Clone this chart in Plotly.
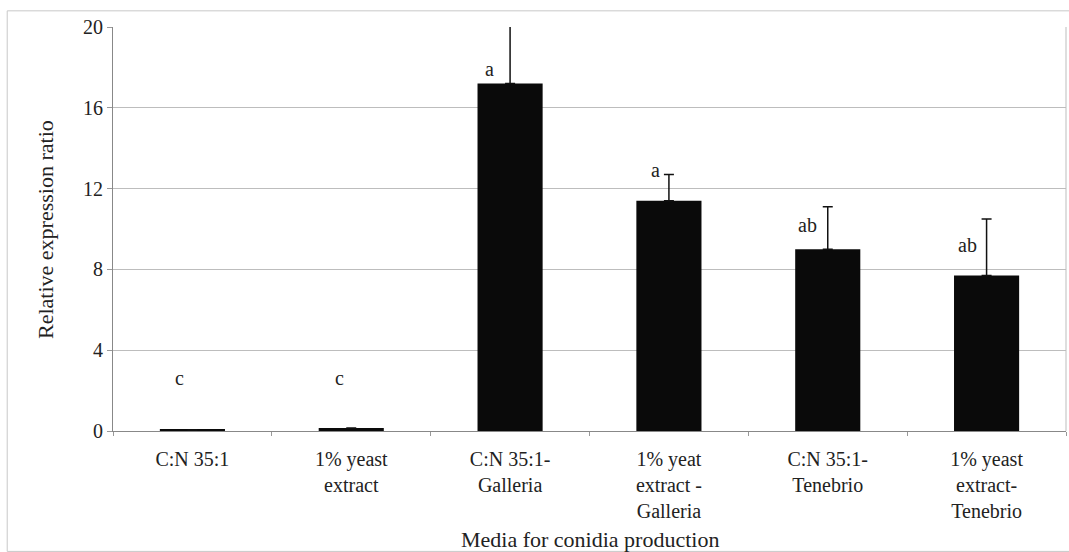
import plotly.graph_objects as go

categories = ["C:N 35:1", "1% yeast<br>extract", "C:N 35:1-<br>Galleria",
              "1% yeat<br>extract -<br>Galleria", "C:N 35:1-<br>Tenebrio",
              "1% yeast<br>extract-<br>Tenebrio"]
values = [0.05, 0.15, 17.2, 11.4, 9.0, 7.7]
errors_plus = [0.0, 0.0, 2.9, 1.3, 2.1, 2.8]
letters = ["c", "c", "a", "a", "ab", "ab"]
letter_y = [2.6, 2.6, 17.9, 12.9, 10.2, 9.2]
letter_dx = [-13, -12, -21, -13, -20, -19]
y_ticks = [0, 4, 8, 12, 16, 20]
x_title = "Media for conidia production"
y_title = "Relative expression ratio"

FONT = '"Liberation Serif", "Times New Roman", serif'

fig = go.Figure()
fig.add_trace(go.Bar(
    x=categories, y=values, width=0.41, cliponaxis=False,
    marker=dict(color="#0a0a0a", line=dict(width=0)),
    error_y=dict(type="data", symmetric=False, array=errors_plus,
                 arrayminus=[0] * len(values), color="#111111",
                 thickness=1.5, width=5, visible=True),
    showlegend=False,
))

for c, t, yy, dx in zip(categories, letters, letter_y, letter_dx):
    fig.add_annotation(x=c, y=yy, text=t, showarrow=False, xshift=dx,
                       font=dict(family=FONT, size=20, color="#222"))

# axis titles
fig.add_annotation(xref="paper", yref="paper", x=0.5, y=-0.268,
                   text=x_title, showarrow=False, yanchor="middle",
                   font=dict(family=FONT, size=22, color="#222"))
fig.add_annotation(xref="paper", yref="paper", x=-0.0714, y=0.5,
                   text=y_title, showarrow=False, textangle=-90,
                   xanchor="center", yanchor="middle",
                   font=dict(family=FONT, size=22, color="#222"))

fig.add_shape(type="rect", xref="paper", yref="paper",
              x0=-0.111, y0=-0.298, x1=1.01, y1=1.04,
              line=dict(color="#c8c8c8", width=1))

fig.update_layout(
    width=1069, height=552,
    margin=dict(l=113, r=3, t=27, b=121),
    paper_bgcolor="white", plot_bgcolor="white",
    font=dict(family=FONT, size=20, color="#222"),
    bargap=0.59,
)
fig.update_xaxes(
    type="category", tickson="boundaries", ticks="outside", ticklen=4,
    tickcolor="#999", showline=True, linecolor="#888", linewidth=1,
    mirror=False, showgrid=False,
    tickfont=dict(family=FONT, size=20), ticklabelstandoff=10,
)
fig.update_yaxes(
    range=[0, 20], tickvals=y_ticks, ticks="outside", ticklen=5,
    tickcolor="#999", showline=True, linecolor="#888", linewidth=1,
    showgrid=True, gridcolor="#bdbdbd", gridwidth=1, zeroline=False,
    tickfont=dict(family=FONT, size=20),
)
fig.add_shape(type="line", xref="paper", yref="paper", x0=1, x1=1, y0=0, y1=1,
              line=dict(color="#bdbdbd", width=1))

fig.write_html("out.html")
